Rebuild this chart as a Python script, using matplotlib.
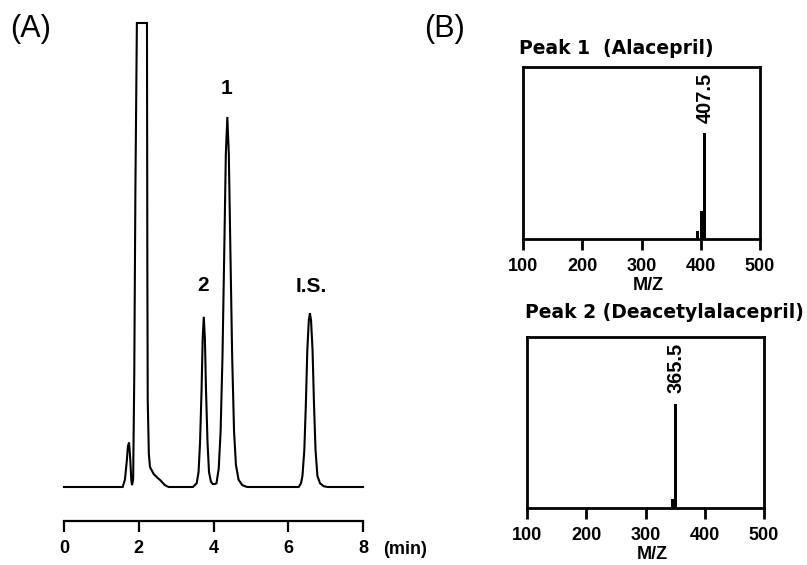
import matplotlib
matplotlib.use("Agg")
import matplotlib.pyplot as plt

plt.rcParams['font.family'] = ['Liberation Sans', 'DejaVu Sans']

# ---- Panel A: chromatogram trace (time in min, relative signal; peak 1 = 100)
trace_time = [0.0, 1.57, 1.63, 1.68, 1.71, 1.74, 1.77, 1.80, 1.82, 1.85, 1.88, 1.91, 1.95,
              2.22, 2.23, 2.24, 2.27, 2.30, 2.40, 2.50, 2.57, 2.70, 2.80,
              3.45, 3.55, 3.60, 3.64, 3.68, 3.71, 3.74, 3.77, 3.80, 3.84, 3.88, 3.93, 3.98, 4.03,
              4.08, 4.14, 4.19, 4.24, 4.29, 4.33, 4.37, 4.41, 4.45, 4.50, 4.55, 4.60, 4.67, 4.77, 4.90,
              6.28, 6.34, 6.38, 6.43, 6.47, 6.51, 6.55, 6.58, 6.61, 6.65, 6.69, 6.73, 6.78, 6.85, 6.95,
              7.05, 8.00]
trace_signal = [0.0, 0.0, 2.0, 7.0, 11.0, 12.0, 8.0, 2.0, 0.5, 2.0, 30.0, 80.0, 125.4,
                125.4, 60.0, 23.5, 9.0, 5.4, 3.5, 2.5, 1.9, 0.5, 0.0,
                0.0, 1.0, 4.0, 12.0, 26.0, 40.0, 46.0, 40.0, 26.0, 12.0, 4.0, 1.5, 0.8, 0.8,
                1.0, 5.0, 15.0, 35.0, 65.0, 90.0, 100.0, 90.0, 65.0, 35.0, 15.0, 6.0, 2.0, 0.5, 0.0,
                0.0, 1.0, 3.0, 10.0, 22.0, 37.0, 45.0, 47.0, 45.0, 37.0, 22.0, 10.0, 3.0, 1.0, 0.2,
                0.0, 0.0]
time_ticks = [0, 2, 4, 6, 8]
peak_labels = ["1", "2", "I.S."]
peak_label_time = [4.35, 3.72, 6.62]
peak_label_signal = [105.0, 52.0, 51.5]

# ---- Panel B: mass spectra
ms_ticks = [100, 200, 300, 400, 500]
ms1_mz = [395, 401.5, 407]
ms1_int = [4.7, 16.0, 61.6]
ms1_label = "407.5"
ms2_mz = [345, 351]
ms2_int = [5.0, 61.0]
ms2_label = "365.5"

W, H = 807, 565
fig = plt.figure(figsize=(W / 100, H / 100), dpi=100)

def fr(x0, y0, x1, y1):
    return [x0 / W, 1 - y1 / H, (x1 - x0) / W, (y1 - y0) / H]

# Panel A
axA = fig.add_axes(fr(64, 23, 363, 487))
axA.plot(trace_time, trace_signal, color='black', lw=1.5, clip_on=False,
         solid_joinstyle='miter')
axA.set_xlim(0, 8)
axA.set_ylim(0, 125.4)
for s in ['left', 'right', 'top']:
    axA.spines[s].set_visible(False)
axA.spines['bottom'].set_position(('outward', 34 * 0.72))
axA.spines['bottom'].set_linewidth(1.6)
axA.set_yticks([])
axA.set_xticks(time_ticks)
axA.set_xticklabels([str(t) for t in time_ticks], fontsize=13, fontweight='bold')
axA.tick_params(axis='x', direction='out', length=8, width=1.6, pad=6)
for lab, t, s in zip(peak_labels, peak_label_time, peak_label_signal):
    axA.text(t, s, lab, ha='center', va='bottom', fontsize=15, fontweight='bold')
fig.text(383 / W, 1 - 549 / H, "(min)", ha='left', va='center', fontsize=13, fontweight='bold')
fig.text(10 / W, 1 - 29 / H, "(A)", ha='left', va='center', fontsize=22)
fig.text(424 / W, 1 - 29 / H, "(B)", ha='left', va='center', fontsize=22)

def spectrum(rect, mz, inten, label, title, title_x, title_y):
    ax = fig.add_axes(rect)
    ax.bar(mz, inten, width=5, color='black', edgecolor='black', linewidth=0)
    ax.set_xlim(100, 500)
    ax.set_ylim(0, 100)
    ax.set_yticks([])
    ax.set_xticks(ms_ticks)
    ax.set_xticklabels([str(t) for t in ms_ticks], fontsize=13, fontweight='bold')
    ax.tick_params(axis='x', direction='out', length=8, width=2, pad=6)
    for s in ax.spines.values():
        s.set_linewidth(2)
    top = max(inten)
    ax.text(mz[-1] + 1, top + 6, label, rotation=90, ha='center', va='bottom',
            fontsize=14.4, fontweight='bold')
    ax.set_xlabel("M/Z", fontsize=13, fontweight='bold', labelpad=1)
    ax.xaxis.set_label_coords(0.53, -0.22)
    fig.text(title_x / W, 1 - title_y / H, title, ha='left', va='center',
             fontsize=13.5, fontweight='bold', family='DejaVu Sans')
    return ax

spectrum(fr(523, 67, 760, 239), ms1_mz, ms1_int, ms1_label,
         "Peak 1  (Alacepril)", 519, 49)
spectrum(fr(527, 337, 764, 508), ms2_mz, ms2_int, ms2_label,
         "Peak 2 (Deacetylalacepril)", 525, 312)

fig.savefig("out.png", dpi=100)
